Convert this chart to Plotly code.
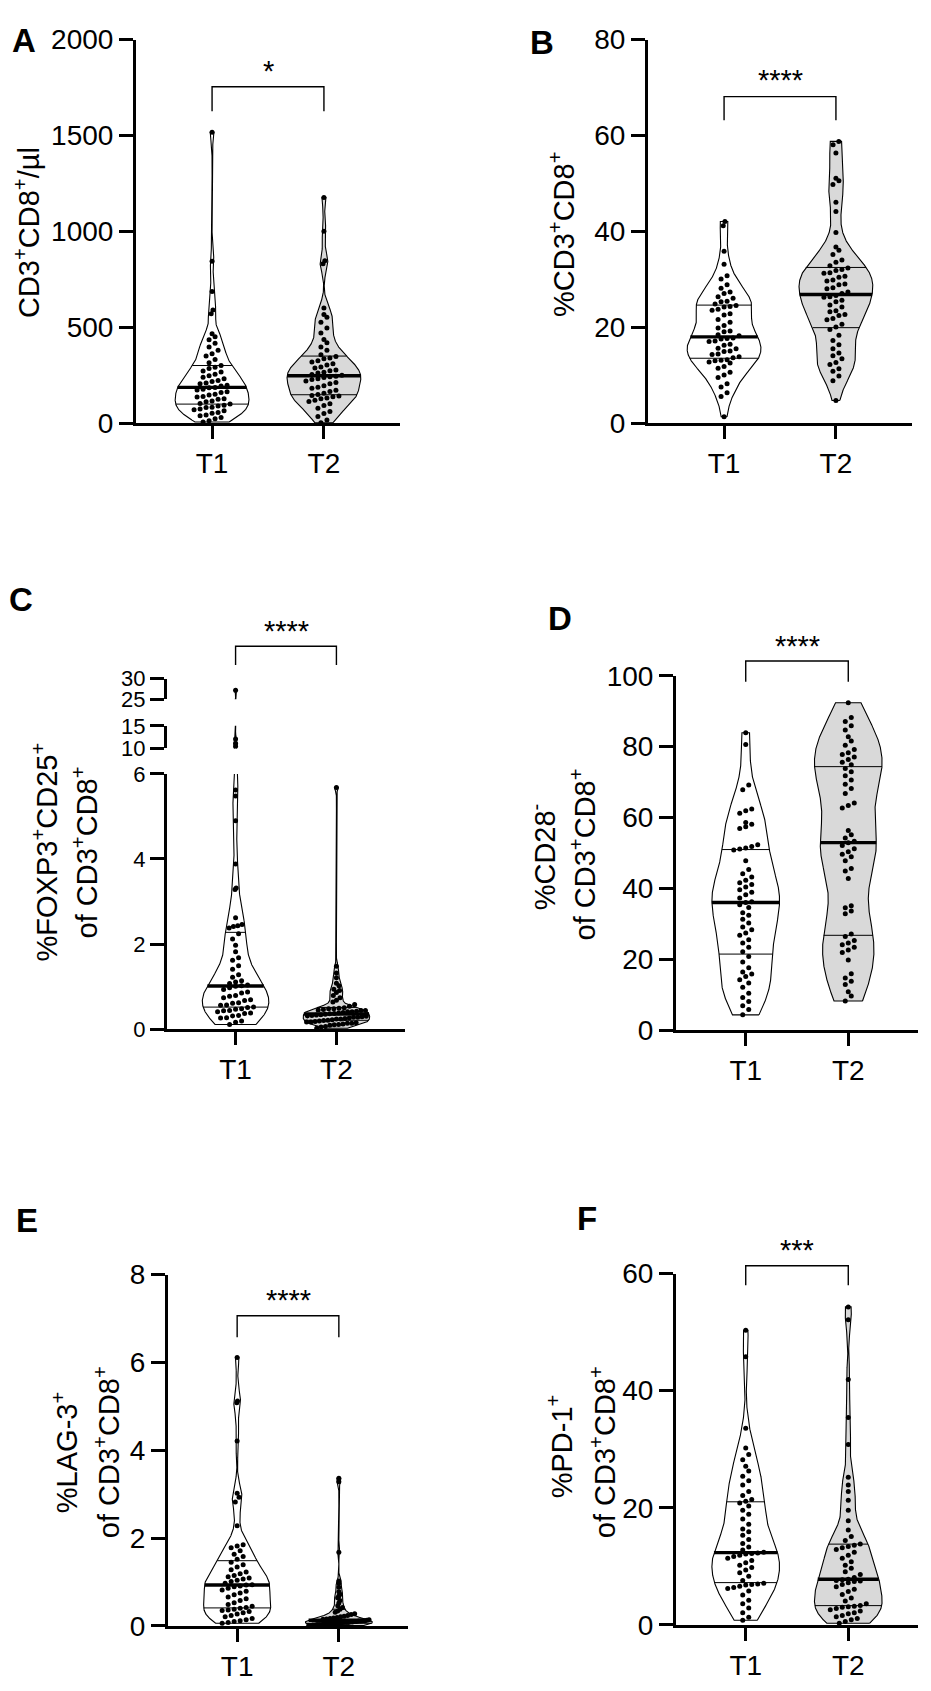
import numpy as np
import plotly.graph_objects as go

W, H = 931, 1691
OFF = 8                      # default page margin of the html body
FW, FH = W - OFF, H - OFF
FONT = "Liberation Sans, Arial, sans-serif"

categories = ["T1", "T2"]

# ---- data (one value per dot) ----
A_T1 = [8, 14, 25, 31, 40, 44, 53, 57, 66, 71, 75, 83, 85, 91, 95,
        101, 104, 113, 117, 126, 129, 138, 141, 149, 152, 161, 165, 174, 179, 186,
        188, 196, 199, 207, 211, 219, 224, 233, 241, 249, 257, 268, 274, 286, 293,
        302, 316, 334, 352, 363, 381, 398, 418, 437, 452, 468, 572, 591, 688, 846, 1518]
A_T2 = [4, 18, 37, 52, 63, 79, 94, 103, 115, 121, 129, 133, 139, 143, 146,
        151, 157, 167, 173, 183, 189, 197, 207, 213, 221, 229, 233, 239, 243, 246,
        251, 255, 263, 267, 275, 279, 289, 295, 305, 311, 321, 327, 337, 341, 349,
        358, 382, 398, 421, 438, 472, 498, 528, 553, 568, 602, 833, 848, 1002, 1178]
B_T1 = [1.4, 5.6, 6.4, 7.6, 8.3, 9.6, 10.1, 10.7, 11.5, 11.9, 12.6, 12.8, 13.1, 13.2, 13.3,
        13.7, 13.9, 14.4, 14.5, 15.0, 15.1, 15.6, 15.7, 16.3, 16.5, 17.1, 17.2, 17.6, 17.7, 17.8,
        18.3, 18.5, 19.1, 19.3, 19.9, 20.4, 21.1, 21.7, 22.6, 22.9, 23.6, 23.8, 24.3, 24.4, 24.6,
        24.9, 25.4, 25.5, 26.1, 26.4, 27.1, 27.4, 28.2, 28.9, 30.1, 30.8, 33.2, 35.9, 41.2, 42.1]
B_T2 = [4.8, 8.9, 9.9, 10.9, 11.4, 12.3, 12.7, 13.5, 14.1, 14.7, 15.6, 16.4, 17.3, 18.4, 19.6,
        20.1, 20.7, 21.6, 21.9, 22.5, 22.7, 23.3, 23.5, 24.3, 24.7, 25.4, 25.7, 26.3, 26.4, 26.7,
        27.1, 27.4, 28.1, 28.3, 28.9, 29.1, 29.7, 29.9, 30.5, 30.7, 31.3, 31.4, 31.9, 32.1, 32.4,
        32.9, 33.6, 34.1, 35.2, 36.1, 36.8, 39.8, 44.2, 46.1, 49.8, 50.6, 51.1, 56.4, 58.1, 58.8]
C_T1 = [0.11, 0.16, 0.19, 0.26, 0.27, 0.31, 0.32, 0.37, 0.38, 0.41, 0.43, 0.44, 0.47, 0.48, 0.51,
        0.52, 0.56, 0.57, 0.61, 0.62, 0.67, 0.69, 0.74, 0.77, 0.79, 0.85, 0.87, 0.93, 0.97, 1.01,
        1.02, 1.04, 1.07, 1.11, 1.14, 1.22, 1.28, 1.41, 1.49, 1.62, 1.68, 1.82, 1.97, 2.12, 2.24,
        2.38, 2.41, 2.43, 2.46, 2.62, 3.28, 3.32, 3.88, 4.9, 5.48, 5.62, 10.4, 11.1, 12.1, 27.2]
C_T2 = [0.02, 0.05, 0.06, 0.09, 0.1, 0.11, 0.12, 0.14, 0.14, 0.15, 0.17, 0.17, 0.18, 0.19, 0.2,
        0.21, 0.22, 0.24, 0.24, 0.25, 0.26, 0.28, 0.28, 0.29, 0.3, 0.31, 0.32, 0.33, 0.34, 0.35,
        0.36, 0.37, 0.38, 0.39, 0.41, 0.41, 0.42, 0.44, 0.44, 0.45, 0.46, 0.48, 0.48, 0.49, 0.5,
        0.54, 0.58, 0.64, 0.68, 0.74, 0.79, 0.86, 0.91, 0.94, 1.02, 1.08, 1.21, 1.32, 1.48, 5.68]
D_T1 = [4.3, 5.8, 6.9, 8.1, 9.2, 10.4, 12.1, 13.3, 14.2, 15.1, 15.8, 16.4, 17.6, 19.2, 20.8,
        22.1, 23.4, 24.6, 25.5, 26.8, 27.4, 28.3, 29.1, 30.2, 31.3, 32.4, 33.1, 34.6, 35.4, 36.0,
        36.2, 37.3, 38.2, 38.9, 39.6, 40.4, 41.1, 41.6, 42.3, 43.2, 44.1, 45.3, 47.8, 50.8, 51.1,
        51.4, 51.8, 52.3, 56.9, 57.4, 58.1, 58.6, 61.2, 61.9, 62.4, 67.8, 69.2, 80.6, 83.9]
D_T2 = [8.2, 9.6, 10.8, 12.9, 13.8, 14.7, 15.9, 19.8, 21.9, 22.6, 23.4, 24.1, 24.6, 25.3, 26.4,
        27.1, 32.8, 33.6, 34.5, 35.1, 42.8, 44.9, 45.6, 47.8, 48.9, 49.6, 50.3, 51.2, 52.1, 52.9,
        53.3, 54.2, 55.1, 56.3, 62.7, 63.4, 64.1, 66.8, 68.2, 69.4, 70.6, 71.8, 72.9, 73.8, 74.9,
        75.6, 76.4, 77.1, 77.8, 78.3, 79.2, 80.4, 81.6, 82.8, 84.7, 85.9, 87.1, 88.2, 92.4]
E_T1 = [0.06, 0.08, 0.1, 0.12, 0.14, 0.17, 0.21, 0.24, 0.27, 0.3, 0.33, 0.35, 0.36, 0.38, 0.4,
        0.42, 0.45, 0.49, 0.53, 0.58, 0.62, 0.66, 0.71, 0.75, 0.79, 0.82, 0.86, 0.89, 0.91, 0.93,
        0.94, 0.97, 1.01, 1.04, 1.07, 1.09, 1.12, 1.15, 1.19, 1.23, 1.28, 1.34, 1.39, 1.45, 1.52,
        1.58, 1.63, 1.71, 1.78, 1.82, 1.85, 2.28, 2.82, 2.93, 3.02, 4.21, 5.08, 5.12, 6.11]
E_T2 = [0.01, 0.01, 0.02, 0.02, 0.03, 0.03, 0.03, 0.04, 0.04, 0.05, 0.05, 0.05, 0.06, 0.06, 0.06,
        0.07, 0.07, 0.08, 0.08, 0.08, 0.09, 0.09, 0.1, 0.1, 0.11, 0.11, 0.12, 0.12, 0.13, 0.14,
        0.15, 0.16, 0.17, 0.18, 0.19, 0.21, 0.22, 0.24, 0.26, 0.28, 0.31, 0.34, 0.38, 0.42, 0.46,
        0.52, 0.58, 0.64, 0.68, 0.72, 0.78, 0.88, 0.97, 1.02, 1.68, 3.28, 3.36]
F_T1 = [0.8, 1.3, 2.1, 2.9, 3.6, 4.2, 5.1, 5.8, 6.2, 6.4, 6.6, 6.8, 6.9, 7.0, 7.1,
        7.6, 8.3, 8.9, 9.4, 9.8, 10.2, 10.6, 11.0, 11.4, 11.7, 11.9, 12.1, 12.2, 12.3, 12.4,
        12.8, 13.3, 13.9, 14.6, 15.3, 15.9, 16.4, 17.2, 18.1, 18.9, 19.6, 20.3, 20.8, 21.1, 21.4,
        22.1, 22.8, 23.9, 24.6, 25.4, 26.3, 27.1, 28.2, 29.1, 30.2, 33.6, 45.8, 50.3]
F_T2 = [0.3, 0.6, 0.9, 1.1, 1.4, 1.6, 1.9, 2.1, 2.4, 2.6, 2.8, 3.0, 3.1, 3.2, 3.3,
        3.6, 4.1, 4.6, 5.2, 5.7, 6.1, 6.5, 6.9, 7.2, 7.4, 7.5, 7.6, 7.7, 7.8, 8.1,
        8.6, 9.1, 9.7, 10.2, 10.8, 11.4, 11.9, 12.4, 12.9, 13.2, 13.4, 13.6, 13.8, 14.4, 15.1,
        16.2, 17.8, 19.6, 21.3, 22.8, 23.9, 25.2, 30.8, 35.4, 41.9, 52.1, 54.3]

significance = {"A": "*", "B": "****", "C": "****", "D": "****", "E": "****", "F": "***"}

title_lines = {
    "A": ["CD3<sup>+</sup>CD8<sup>+</sup>/µl"],
    "B": ["%CD3<sup>+</sup>CD8<sup>+</sup>"],
    "C": ["%FOXP3<sup>+</sup>CD25<sup>+</sup>", "of CD3<sup>+</sup>CD8<sup>+</sup>"],
    "D": ["%CD28<sup>-</sup>", "of CD3<sup>+</sup>CD8<sup>+</sup>"],
    "E": ["%LAG-3<sup>+</sup>", "of CD3<sup>+</sup>CD8<sup>+</sup>"],
    "F": ["%PD-1<sup>+</sup>", "of CD3<sup>+</sup>CD8<sup>+</sup>"],
}

# ---- layout (screen-pixel geometry) ----
XR = [-0.68, 1.68]
HALF = 0.33
FILLS = ["white", "#d9d9d9"]
TICKF = 28
AXW = 3

panels = [
    dict(key="A", xa="x", data=(A_T1, A_T2), xpx=(136, 400),
         segs=[dict(ya="y", px=(416, 25), r=(0, 2000), tv=[0, 500, 1000, 1500, 2000])],
         letter=(24, 26), tpos=[(27, 222)], br=(50, 73, 98)),
    dict(key="B", xa="x2", data=(B_T1, B_T2), xpx=(648, 912),
         segs=[dict(ya="y2", px=(416, 25), r=(0, 80), tv=[0, 20, 40, 60, 80])],
         letter=(542, 28), tpos=[(562, 223)], br=(59, 83, 107)),
    dict(key="C", xa="x3", data=(C_T1, C_T2), xpx=(167, 405),
         segs=[dict(ya="y3", px=(1033, 773), r=(0, 6), tv=[0, 2, 4, 6]),
               dict(ya="y7", px=(747, 724), r=(10, 15), tv=[10, 15]),
               dict(ya="y8", px=(697, 676), r=(25, 30), tv=[25, 30])],
         letter=(21, 595), tpos=[(45, 853), (85, 853)], br=(620, 643, 662)),
    dict(key="D", xa="x4", data=(D_T1, D_T2), xpx=(676, 918),
         segs=[dict(ya="y4", px=(1034, 673), r=(0, 100), tv=[0, 20, 40, 60, 80, 100])],
         letter=(560, 615), tpos=[(543, 858), (583, 855)], br=(636, 658, 679)),
    dict(key="E", xa="x5", data=(E_T1, E_T2), xpx=(168, 408),
         segs=[dict(ya="y5", px=(1641, 1283), r=(0, 8), tv=[0, 2, 4, 6, 8])],
         letter=(27, 1228), tpos=[(65, 1465), (107, 1464)], br=(1302, 1325, 1347)),
    dict(key="F", xa="x6", data=(F_T1, F_T2), xpx=(676, 918),
         segs=[dict(ya="y6", px=(1640, 1282), r=(0, 60), tv=[0, 20, 40, 60])],
         letter=(587, 1226), tpos=[(560, 1458), (603, 1464)], br=(1251, 1274, 1294)),
]


def yp(py):
    return 1 - (py - OFF) / FH


def xp(px):
    return (px - OFF) / FW


def kde(vals, grid, factor=0.8):
    v = np.asarray(vals, float)
    n = len(v)
    sd = v.std(ddof=1)
    q75, q25 = np.percentile(v, [75, 25])
    h = 0.9 * min(sd, (q75 - q25) / 1.34) * n ** -0.2 * factor
    return np.exp(-0.5 * ((grid[:, None] - v[None, :]) / h) ** 2).sum(1)


def to_px(v, segs):
    for s in segs:
        lo, hi = s["r"]
        if lo - 1e-9 <= v <= hi + 1e-9:
            b, t = s["px"]
            return b - (v - lo) / (hi - lo) * (b - t)
    return None


def swarm(vals, segs, px_per_x, grid, hw, d=6.0):
    v = np.asarray(vals, float)
    order = np.argsort(v)
    off = np.zeros(len(v))
    rows, cur, start = [], [], None
    for i in order:
        p = to_px(v[i], segs)
        if p is None:
            p = -1e6 - v[i]
        if start is None or abs(p - start) > d:
            if cur:
                rows.append(cur)
            cur, start = [i], p
        else:
            cur.append(i)
    if cur:
        rows.append(cur)
    for r in rows:
        k = len(r)
        if k == 1:
            continue
        ymid = float(np.mean(v[r]))
        allowed = max(float(np.interp(ymid, grid, hw)) * px_per_x - 3.0, 0.0)
        step = min(d, 2 * allowed / (k - 1))
        for j, i in enumerate(r):
            off[i] = (j - (k - 1) / 2) * step / px_per_x
    return off


fig = go.Figure()
layout = dict(width=FW, height=FH, margin=dict(l=0, r=0, t=0, b=0),
              paper_bgcolor="white", plot_bgcolor="rgba(0,0,0,0)",
              showlegend=False, font=dict(family=FONT, color="black"))
annotations, shapes = [], []

for P in panels:
    xa = P["xa"]
    xname = "xaxis" + xa[1:]
    x0, x1 = P["xpx"]
    px_per_x = (x1 - x0) / (XR[1] - XR[0])
    segs = P["segs"]
    main = segs[0]
    layout[xname] = dict(domain=[xp(x0), xp(x1)], range=XR, anchor=main["ya"],
                         tickvals=[0, 1], ticktext=categories, ticks="outside",
                         ticklen=13, tickwidth=AXW, showline=True, linewidth=AXW,
                         linecolor="black", tickcolor="black", showgrid=False,
                         zeroline=False,
                         tickfont=dict(size=TICKF, family=FONT, color="black"))
    for s in segs:
        yname = "yaxis" + s["ya"][1:]
        b, t = s["px"]
        layout[yname] = dict(domain=[yp(b), yp(t)], range=list(s["r"]), anchor=xa,
                             tickvals=s["tv"], ticks="outside", ticklen=14,
                             tickwidth=AXW, showline=True, linewidth=AXW,
                             linecolor="black", tickcolor="black", showgrid=False,
                             zeroline=False,
                             tickfont=dict(size=22 if P["key"] == "C" else TICKF,
                                           family=FONT, color="black"))

    for gi, vals in enumerate(P["data"]):
        v = np.asarray(vals, float)
        grid = np.linspace(v.min(), v.max(), 2500)
        dens = kde(v, grid)
        hw = HALF * dens / dens.max()
        vx = np.concatenate([gi + hw, (gi - hw)[::-1], [gi + hw[0]]])
        vy = np.concatenate([grid, grid[::-1], [grid[0]]])
        q1, med, q3 = np.percentile(v, [25, 50, 75])
        off = swarm(v, segs, px_per_x, grid, hw)
        for s in segs:
            ya = s["ya"]
            fig.add_trace(go.Scatter(x=vx, y=vy, xaxis=xa, yaxis=ya, mode="lines",
                                     fill="toself", fillcolor=FILLS[gi],
                                     line=dict(color="black", width=1.1),
                                     hoverinfo="skip"))
            for q, lw in ((q1, 1.0), (q3, 1.0), (med, 3.4)):
                w = float(np.interp(q, grid, hw))
                fig.add_trace(go.Scatter(x=[gi - w, gi + w], y=[q, q], xaxis=xa,
                                         yaxis=ya, mode="lines",
                                         line=dict(color="black", width=lw),
                                         hoverinfo="skip"))
            fig.add_trace(go.Scatter(x=gi + off, y=v, xaxis=xa, yaxis=ya,
                                     mode="markers",
                                     marker=dict(size=5, color="black"),
                                     hoverinfo="skip"))

    # significance bracket
    sy, top, leg = P["br"]
    shapes.append(dict(type="path", xref=xa, yref="paper",
                       path=f"M 0,{yp(leg)} L 0,{yp(top)} L 1,{yp(top)} L 1,{yp(leg)}",
                       line=dict(color="black", width=1.4)))
    annotations.append(dict(x=0.5, y=yp(sy + 7), xref=xa, yref="paper",
                            text=significance[P["key"]], showarrow=False,
                            xanchor="center", yanchor="middle",
                            font=dict(size=29, family=FONT, color="black")))
    lx, ly = P["letter"]
    annotations.append(dict(x=xp(lx), y=yp(ly), xref="paper", yref="paper",
                            text=f"<b>{P['key']}</b>", showarrow=False,
                            xanchor="center", yanchor="middle",
                            font=dict(size=33, family=FONT, color="black")))
    for line, (tx, ty) in zip(title_lines[P["key"]], P["tpos"]):
        annotations.append(dict(x=xp(tx), y=yp(ty), xref="paper", yref="paper",
                                text=line, showarrow=False, textangle=-90,
                                xanchor="center", yanchor="middle",
                                font=dict(size=29, family=FONT, color="black")))

layout["annotations"] = annotations
layout["shapes"] = shapes
fig.update_layout(**layout)
fig.write_html("out.html")
